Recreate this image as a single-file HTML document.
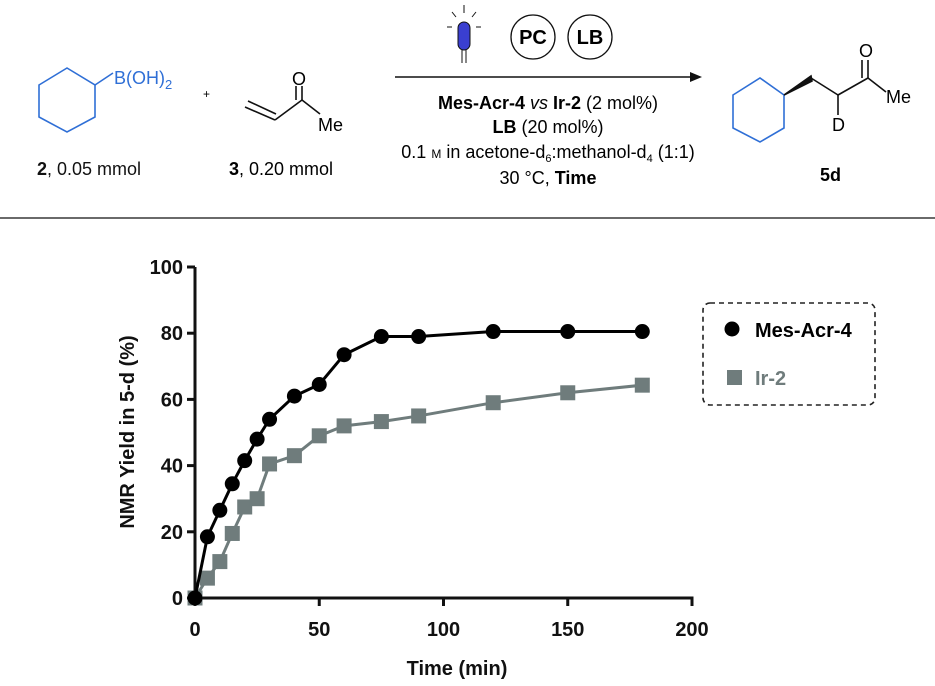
<!DOCTYPE html>
<html><head><meta charset="utf-8"><style>
html,body{margin:0;padding:0;background:#fff;}
svg{display:block;font-family:"Liberation Sans",Arial,sans-serif;}
</style></head><body>
<svg id="fig" width="935" height="686" viewBox="0 0 935 686">
 <g font-size="18">
  <g>
   <polygon points="39,85 67,68 95,85 95,117 67,132 39,117" fill="none" stroke="#2f6fd6" stroke-width="1.6"/>
   <line x1="95" y1="85" x2="113" y2="73" stroke="#2f6fd6" stroke-width="1.6"/>
   <text x="114" y="84" fill="#2f6fd6" font-size="18">B(OH)<tspan font-size="13" dy="5">2</tspan></text>
   <text x="37" y="175" fill="#111"><tspan font-weight="bold">2</tspan>, 0.05 mmol</text>
  </g>
  <text x="203" y="98" font-size="12">+</text>
  <g stroke="#111" stroke-width="1.6">
   <line x1="245" y1="107" x2="275" y2="120"/><line x1="248" y1="101" x2="276" y2="114"/>
   <line x1="275" y1="120" x2="302" y2="100"/>
   <line x1="302" y1="100" x2="302" y2="86"/><line x1="296" y1="100" x2="296" y2="86"/>
   <line x1="302" y1="100" x2="320" y2="114"/>
   <text x="292" y="85" stroke="none" font-size="18">O</text>
   <text x="318" y="131" stroke="none" font-size="18">Me</text>
   <text x="229" y="175" stroke="none"><tspan font-weight="bold">3</tspan>, 0.20 mmol</text>
  </g>
  <g>
   <line x1="395" y1="77" x2="695" y2="77" stroke="#111" stroke-width="1.6"/>
   <polygon points="702,77 690,72 690,82" fill="#111"/>
  </g>
  <g>
   <rect x="458" y="22" width="12" height="28" rx="6" fill="#3a3fd0" stroke="#111"/>
   <line x1="462" y1="50" x2="462" y2="63" stroke="#111"/><line x1="466" y1="50" x2="466" y2="63" stroke="#111"/>
   <line x1="464" y1="5" x2="464" y2="13" stroke="#111"/><line x1="452" y1="12" x2="456" y2="17" stroke="#111"/>
   <line x1="476" y1="12" x2="472" y2="17" stroke="#111"/><line x1="447" y1="27" x2="452" y2="27" stroke="#111"/><line x1="476" y1="27" x2="481" y2="27" stroke="#111"/>
  </g>
  <g>
   <ellipse cx="533" cy="37" rx="22" ry="22" fill="none" stroke="#111" stroke-width="1.3"/>
   <text x="533" y="44" text-anchor="middle" font-weight="bold" font-size="20">PC</text>
  </g>
  <g>
   <ellipse cx="590" cy="37" rx="22" ry="22" fill="none" stroke="#111" stroke-width="1.3"/>
   <text x="590" y="44" text-anchor="middle" font-weight="bold" font-size="20">LB</text>
  </g>
  <g text-anchor="middle" font-size="18">
   <text x="548" y="109"><tspan font-weight="bold">Mes-Acr-4</tspan> <tspan font-style="italic">vs</tspan> <tspan font-weight="bold">Ir-2</tspan> (2 mol%)</text>
   <text x="548" y="133"><tspan font-weight="bold">LB</tspan> (20 mol%)</text>
   <text x="548" y="158">0.1 <tspan font-size="12">M</tspan> in acetone-d<tspan font-size="11" dy="4">6</tspan><tspan dy="-4">:methanol-d</tspan><tspan font-size="11" dy="4">4</tspan><tspan dy="-4"> (1:1)</tspan></text>
   <text x="548" y="184">30 °C, <tspan font-weight="bold">Time</tspan></text>
  </g>
  <g stroke="#111" stroke-width="1.6">
   <polygon points="733,95 760,78 784,95 784,128 760,142 733,128" fill="none" stroke="#2f6fd6"/>
   <polygon points="784,95 811,76 812,81" fill="#111"/>
   <line x1="811" y1="78" x2="838" y2="95"/><line x1="838" y1="95" x2="868" y2="78"/>
   <line x1="868" y1="78" x2="868" y2="60"/><line x1="862" y1="78" x2="862" y2="60"/>
   <line x1="868" y1="78" x2="886" y2="92"/><line x1="838" y1="95" x2="838" y2="115"/>
   <text x="859" y="57" stroke="none" font-size="18">O</text>
   <text x="886" y="103" stroke="none" font-size="18">Me</text>
   <text x="832" y="131" stroke="none" font-size="18">D</text>
   <text x="820" y="181" stroke="none" font-weight="bold">5d</text>
  </g>
 </g>
 <line x1="0" y1="218" x2="935" y2="218" stroke="#111" stroke-width="1.3"/>
 <g id="chart"></g>
</svg>
<script>
const times = [0,5,10,15,20,25,30,40,50,60,75,90,120,150,180];
const mesAcr4 = [0,18.5,26.5,34.5,41.5,48,54,61,64.5,73.5,79,79,80.5,80.5,80.5];
const ir2 = [0,6,11,19.5,27.5,30,40.5,43,49,52,53.3,55,59,62,64.3];
const xTicks = [0,50,100,150,200];
const yTicks = [0,20,40,60,80,100];

const NS='http://www.w3.org/2000/svg';
const g=document.getElementById('chart');
function xs(t){return 195+t*(692-195)/200;}
function ys(v){return 598-v*(598-267)/100;}
function mk(tag,attrs,parent){const e=document.createElementNS(NS,tag);for(const k in attrs)e.setAttribute(k,attrs[k]);(parent||g).appendChild(e);return e;}

const ax=mk('g',{});


const yl=mk('line',{x1:xs(0),y1:ys(0)+1.5,x2:xs(0),y2:ys(100),stroke:'#111','stroke-width':3},ax);


const xl=mk('line',{x1:xs(0)-1.5,y1:ys(0),x2:xs(200)+1.5,y2:ys(0),stroke:'#111','stroke-width':3},ax);


yTicks.forEach(v=>{
 const t=mk('line',{x1:xs(0)-8,y1:ys(v),x2:xs(0),y2:ys(v),stroke:'#111','stroke-width':3},ax);
 
 
 const l=mk('text',{x:xs(0)-12,y:ys(v)+7,'text-anchor':'end','font-size':20,'font-weight':'bold',fill:'#111'},ax);
 l.textContent=v;
 
 
});
xTicks.forEach(v=>{
 const t=mk('line',{x1:xs(v),y1:ys(0),x2:xs(v),y2:ys(0)+8,stroke:'#111','stroke-width':3},ax);
 
 
 const l=mk('text',{x:xs(v),y:636,'text-anchor':'middle','font-size':20,'font-weight':'bold',fill:'#111'},ax);
 l.textContent=v;
 
 
});
const xt=mk('text',{x:457,y:675,'text-anchor':'middle','font-size':20,'font-weight':'bold',fill:'#111'},ax);
xt.textContent='Time (min)';


const yt=mk('text',{x:0,y:0,'text-anchor':'middle','font-size':20,'font-weight':'bold',fill:'#111',transform:'translate(134,432) rotate(-90)'},ax);
yt.textContent='NMR Yield in 5-d (%)';



function series(vals,color,shape,name){
 const sg=mk('g',{});
 
 
 const pl=mk('polyline',{points:times.map((t,i)=>xs(t)+','+ys(vals[i])).join(' '),fill:'none',stroke:color,'stroke-width':3},sg);
 
 
 times.forEach((t,i)=>{
  let m;
  if(shape==='circle') m=mk('circle',{cx:xs(t),cy:ys(vals[i]),r:7.5,fill:color},sg);
  else m=mk('rect',{x:xs(t)-7.5,y:ys(vals[i])-7.5,width:15,height:15,fill:color},sg);
  
  
 });
}
series(ir2,'#6f7c7c','square','ir-2');
series(mesAcr4,'#000','circle','mes-acr-4');

const lg=mk('g',{});


mk('rect',{x:703,y:303,width:172,height:102,rx:7,fill:'none',stroke:'#222','stroke-width':1.6,'stroke-dasharray':'5,4'},lg);
const e1=mk('g',{},lg);


mk('circle',{cx:732,cy:329,r:7.5,fill:'#000'},e1);
const t1=mk('text',{x:755,y:337,'font-size':20,'font-weight':'bold',fill:'#000'},e1);
t1.textContent='Mes-Acr-4';
const e2=mk('g',{},lg);


mk('rect',{x:727,y:370,width:15,height:15,fill:'#6f7c7c'},e2);
const t2=mk('text',{x:755,y:385,'font-size':20,'font-weight':'bold',fill:'#6f7c7c'},e2);
t2.textContent='Ir-2';
</script>
</body></html>
